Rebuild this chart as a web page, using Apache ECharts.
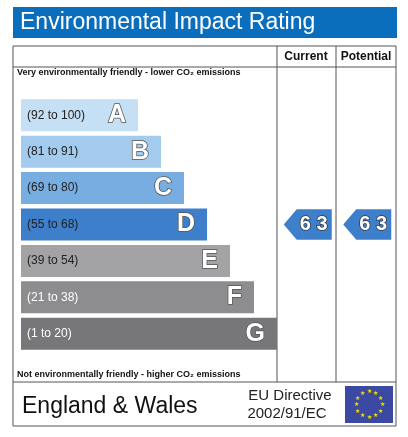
<!DOCTYPE html>
<html style="height: 100%">
<head>
	<meta charset="utf-8">
</head>
<body style="height: 100%; margin: 0; background: #fff">
<div id="container" style="width: 408px; height: 437px"></div>
<script type="text/javascript" src="https://cdn.jsdelivr.net/npm/echarts@6/dist/echarts.min.js"></script>
<script type="text/javascript">
    var bands = ['A', 'B', 'C', 'D', 'E', 'F', 'G'];
    var ranges = ['(92 to 100)', '(81 to 91)', '(69 to 80)', '(55 to 68)', '(39 to 54)', '(21 to 38)', '(1 to 20)'];
    var barLength = [117, 140, 163, 186, 209, 233, 256];
    var colors = ['#c5dff4', '#a3cbee', '#77ade0', '#3e7fcc', '#a3a3a5', '#8d8d8f', '#77777a'];
    var rangeTextColors = ['#222', '#222', '#222', '#222', '#222', '#fff', '#fff'];
    var columns = ['Current', 'Potential'];
    var ratings = [63, 63];
    var ratingBands = ['D', 'D'];

    var font = '"Liberation Sans", Arial, sans-serif';
    var myChart = echarts.init(document.getElementById('container'));

    var option = {
        animation: false,
        backgroundColor: '#fff',
        grid: [
            {left: 21, top: 97, width: 256, height: 255},
            {left: 277, top: 97, width: 119, height: 255}
        ],
        xAxis: [
            {gridIndex: 0, type: 'value', min: 0, max: 256, show: false},
            {gridIndex: 1, type: 'category', data: columns, show: false}
        ],
        yAxis: [
            {gridIndex: 0, type: 'category', data: bands, inverse: true, show: false},
            {gridIndex: 1, type: 'category', data: bands, inverse: true, show: false}
        ],
        graphic: [
            {type: 'rect', shape: {x: 13, y: 7, width: 384, height: 31}, style: {fill: '#0a6ebd'}},
            {type: 'text', x: 20, y: 23, style: {text: 'Environmental Impact Rating', fill: '#fff', font: '23px ' + font, verticalAlign: 'middle'}},
            {type: 'rect', shape: {x: 13, y: 46, width: 383, height: 380}, style: {fill: 'none', stroke: '#555', lineWidth: 1}},
            {type: 'line', shape: {x1: 13, y1: 67, x2: 396, y2: 67}, style: {stroke: '#555'}},
            {type: 'line', shape: {x1: 13, y1: 382, x2: 396, y2: 382}, style: {stroke: '#555'}},
            {type: 'line', shape: {x1: 277, y1: 46, x2: 277, y2: 382}, style: {stroke: '#555'}},
            {type: 'line', shape: {x1: 336, y1: 46, x2: 336, y2: 382}, style: {stroke: '#555'}},
            {type: 'text', x: 306, y: 57, style: {text: 'Current', fill: '#111', font: 'bold 12px ' + font, align: 'center', verticalAlign: 'middle'}},
            {type: 'text', x: 366, y: 57, style: {text: 'Potential', fill: '#111', font: 'bold 12px ' + font, align: 'center', verticalAlign: 'middle'}},
            {type: 'text', x: 17, y: 73, style: {text: 'Very environmentally friendly - lower CO₂ emissions', fill: '#111', font: 'bold 9px ' + font, verticalAlign: 'middle'}},
            {type: 'text', x: 17, y: 375, style: {text: 'Not environmentally friendly - higher CO₂ emissions', fill: '#111', font: 'bold 9px ' + font, verticalAlign: 'middle'}},
            {type: 'text', x: 22, y: 407, style: {text: 'England & Wales', fill: '#111', font: '23px ' + font, verticalAlign: 'middle'}},
            {type: 'text', x: 290, y: 396, style: {text: 'EU Directive', fill: '#222', font: '15px ' + font, align: 'center', verticalAlign: 'middle'}},
            {type: 'text', x: 287, y: 414, style: {text: '2002/91/EC', fill: '#222', font: '15px ' + font, align: 'center', verticalAlign: 'middle'}},
            {type: 'rect', shape: {x: 345, y: 386, width: 48, height: 37}, style: {fill: '#3b49a3'}},
            {type: 'group', children: (function () {
                var stars = [];
                for (var i = 0; i < 12; i++) {
                    var a = i * Math.PI / 6;
                    stars.push({type: 'text', x: 369 + 13 * Math.sin(a), y: 404.5 - 13 * Math.cos(a),
                        style: {text: '★', fill: '#f5e000', font: '6px ' + font, align: 'center', verticalAlign: 'middle'}});
                }
                return stars;
            })()}
        ],
        series: [
            {
                type: 'bar', xAxisIndex: 0, yAxisIndex: 0, barWidth: 32, barGap: '-100%',
                data: barLength.map(function (v, i) {
                    return {value: v, itemStyle: {color: colors[i]},
                        label: {color: rangeTextColors[i]}};
                }),
                label: {
                    show: true, position: 'insideLeft', distance: 6,
                    fontFamily: font, fontSize: 12, fontWeight: 'normal',
                    formatter: function (p) { return ranges[p.dataIndex]; }
                }
            },
            {
                type: 'bar', xAxisIndex: 0, yAxisIndex: 0, barWidth: 32, barGap: '-100%',
                data: barLength, itemStyle: {color: 'transparent'}, silent: true,
                label: {
                    show: true, position: 'insideRight', distance: 12,
                    fontFamily: font, fontSize: 25, fontWeight: 'bold',
                    color: '#fff', textBorderColor: '#555', textBorderWidth: 1.5,
                    formatter: function (p) { return bands[p.dataIndex]; }
                }
            },
            {
                type: 'custom', xAxisIndex: 1, yAxisIndex: 1,
                data: ratings.map(function (v, i) { return [i, bands.indexOf(ratingBands[i]), v]; }),
                renderItem: function (params, api) {
                    var c = api.coord([api.value(0), api.value(1)]);
                    var h = api.size([1, 1])[1] - 6;
                    var w = 48, x0 = c[0] - w / 2 + 1, y0 = c[1] - h / 2;
                    return {
                        type: 'group', children: [
                            {type: 'polygon', shape: {points: [[x0, c[1]], [x0 + 13, y0], [x0 + w, y0], [x0 + w, y0 + h], [x0 + 13, y0 + h]]},
                                style: {fill: '#3e7fcc'}},
                            {type: 'text', x: x0 + 30, y: c[1],
                                style: {text: String(api.value(2)).split('').join(' '), fill: '#fff', stroke: '#333', lineWidth: 1.5,
                                    font: 'bold 20px ' + font, align: 'center', verticalAlign: 'middle'}}
                        ]
                    };
                }
            }
        ]
    };
    myChart.setOption(option);
</script>
</body>
</html>
